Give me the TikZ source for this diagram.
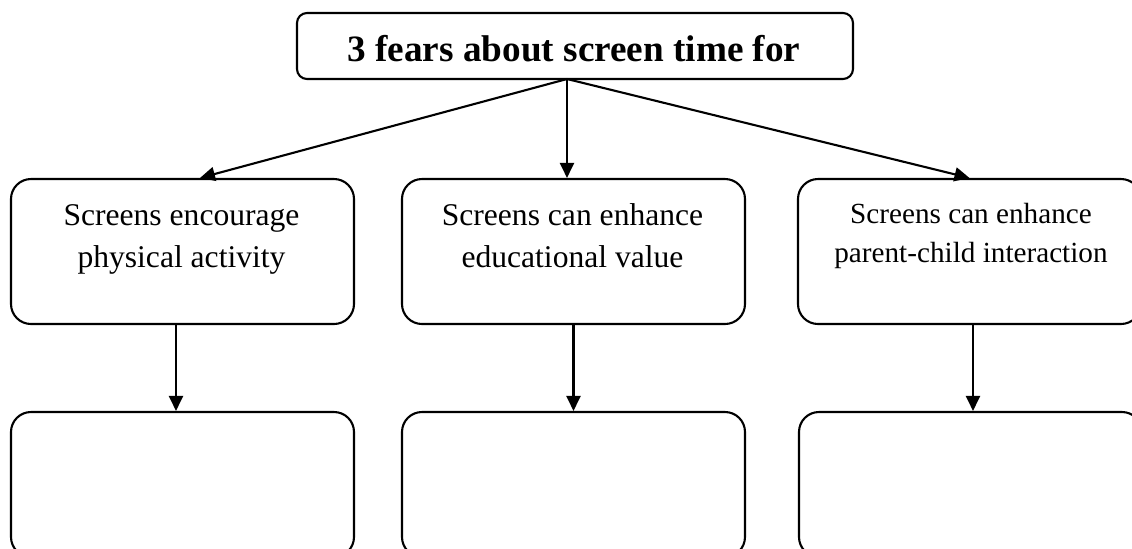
\documentclass[tikz,border=0pt]{standalone}
\usepackage{fontspec}
\setmainfont{Liberation Serif}
\usetikzlibrary{arrows.meta}
\begin{document}
\begin{tikzpicture}[x=0.5pt,y=-0.5pt,
  box/.style={draw,line width=1.05pt,rounded corners=10pt,minimum width=171.5pt,minimum height=72.5pt,inner sep=0pt},
  topbox/.style={draw,line width=1.05pt,rounded corners=5pt,minimum width=278pt,minimum height=33pt,inner sep=0pt},
  label/.style={align=center,inner sep=0pt,anchor=base,font=\fontsize{15.8}{21}\selectfont},
  smalllabel/.style={align=center,inner sep=0pt,anchor=base,font=\fontsize{14.6}{19.5}\selectfont},
  arr/.style={line width=1.05pt,-{Triangle[length=7.5pt,width=7pt]}}
]
\useasboundingbox (0,0) rectangle (1132,548);
\clip (0,0) rectangle (1132,548);
% top box
\node[topbox] (top) at (575,46) {};
\node[inner sep=0pt,anchor=base,font=\fontsize{18.6}{22}\selectfont\bfseries] (title) at (574,61) {3 fears about screen time for};
\coordinate (src) at (567,79);
% middle boxes
\node[box] (b1) at (182.5,251.5) {};
\node[box] (b2) at (573.5,251.5) {};
\node[box] (b3) at (969.5,251.5) {};
\node[label] (t1) at (181.5,267) {Screens encourage\\physical activity};
\node[label] (t2) at (572.5,267) {Screens can enhance\\educational value};
\node[smalllabel] (t3) at (971,262) {Screens can enhance\\parent-child interaction};
% bottom boxes
\node[box] (c1) at (182.5,484.5) {};
\node[box] (c2) at (573.5,484.5) {};
\node[box] (c3) at (970.5,484.5) {};
% connectors
\draw[arr] (src) -- (b1.north -| 200,0);
\draw[arr] (src) -- (b2.north -| src);
\draw[arr] (src) -- (b3.north);
\draw[arr] (b1.south -| 176,0) -- (c1.north -| 176,0);
\draw[arr] (b2.south) -- (c2.north);
\draw[arr] (b3.south -| 973,0) -- (c3.north -| 973,0);
\end{tikzpicture}
\end{document}
